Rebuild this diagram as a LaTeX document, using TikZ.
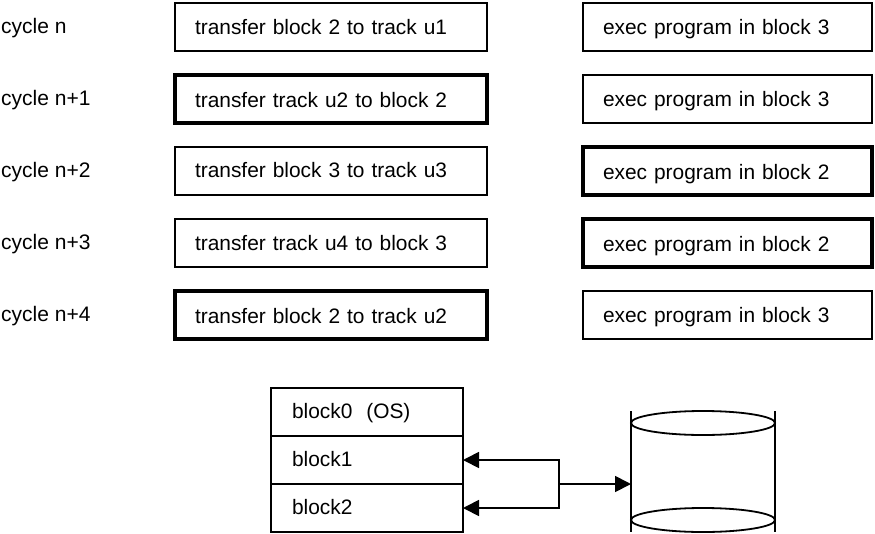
\documentclass[tikz,border=0pt]{standalone}
\usepackage{fontspec}
\setmainfont{Liberation Sans}
\usetikzlibrary{arrows.meta,shapes.geometric}
\tikzset{
  lbl/.style={anchor=base west,inner sep=0pt,font=\fontsize{21}{24}\selectfont},
  box/.style={draw=black,line width=1.8pt,fill=white,anchor=north west,inner xsep=20pt,inner ysep=0pt,outer sep=0pt,
    minimum height=48pt,text height=16pt,text depth=3pt,align=left,font=\fontsize{20.9}{24}\selectfont},
  wideL/.style={box,text width=272pt,minimum width=312pt},
  wideR/.style={box,text width=249pt,minimum width=289pt},
  blk/.style={box,inner xsep=21pt,text width=150pt,minimum width=192pt},
  heavy/.style={line width=4.2pt},
  conn/.style={line width=1.8pt},
  tip/.style={-{Triangle[length=16pt,width=16pt]}},
  lid/.style={draw=black,line width=1.8pt,ellipse,minimum width=144pt,minimum height=24pt,inner sep=0pt,outer sep=0pt},
  tlow/.style={text height=18pt},
  tlower/.style={text height=19pt},
  tlowest/.style={text height=20pt},
  thigh/.style={text height=15pt}
}
\begin{document}
\begin{tikzpicture}[x=1pt,y=-1pt]
\useasboundingbox (0,0) rectangle (875,533);
\node[lbl] (c0) at (1,33) {cycle n};
\node[lbl] (c1) at (1,105) {cycle n+1};
\node[lbl] (c2) at (1,177) {cycle n+2};
\node[lbl] (c3) at (1,249) {cycle n+3};
\node[lbl] (c4) at (1,321) {cycle n+4};
\node[wideL,tlow] (l0) at (175,3) {transfer block 2 to track u1};
\node[wideL,heavy,tlower] (l1) at (175,75) {transfer track u2 to block 2};
\node[wideL] (l2) at (175,147) {transfer block 3 to track u3};
\node[wideL,tlow] (l3) at (175,219) {transfer track u4 to block 3};
\node[wideL,heavy,tlowest] (l4) at (175,291) {transfer block 2 to track u2};
\node[wideR,tlow] (r0) at (583,3) {exec program in block 3};
\node[wideR,tlow] (r1) at (583,75) {exec program in block 3};
\node[wideR,heavy,tlowest] (r2) at (583,147) {exec program in block 2};
\node[wideR,heavy,tlowest] (r3) at (583,219) {exec program in block 2};
\node[wideR,tlow] (r4) at (583,291) {exec program in block 3};
\node[blk,thigh] (b0) at (271,388) {block0\ \ (OS)};
\node[blk] (b1) at (271,436) {block1};
\node[blk,thigh] (b2) at (271,484) {block2};
\node[lid] (top) at (703,423) {};
\node[lid] (bot) at (703,520) {};
\draw[conn] (top.west |- 0,411) -- (top.west |- 0,532);
\draw[conn] (top.east |- 0,411) -- (top.east |- 0,532);
\coordinate (j) at (559,484);
\draw[conn,tip] (j) |- (b1.east);
\draw[conn,tip] (j) |- (b2.east);
\draw[conn,tip] (j) -- (top.west |- j);
\end{tikzpicture}
\end{document}
